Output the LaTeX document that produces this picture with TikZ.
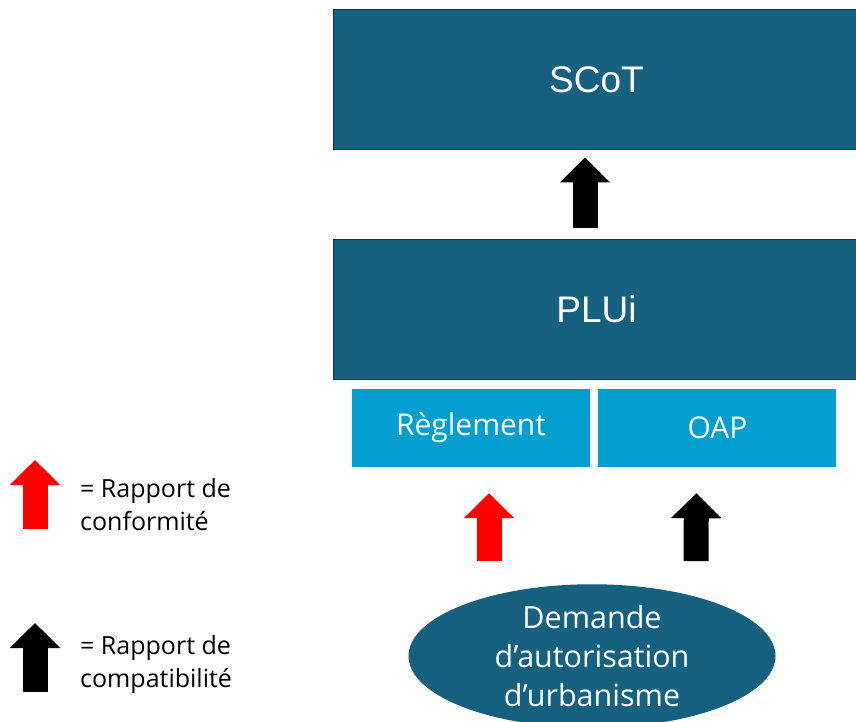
\documentclass[tikz,border=0pt]{standalone}
\usepackage{fontspec}
\setmainfont{Open Sans}
\newfontfamily\boxfont{Liberation Sans}
\usetikzlibrary{shapes.geometric,arrows.meta,positioning}
\definecolor{plublue}{RGB}{22,96,128}
\definecolor{plulight}{RGB}{4,158,209}
\definecolor{pluedge}{RGB}{14,52,70}

\begin{document}
\begin{tikzpicture}[x=1pt,y=-1pt]
		\tikzstyle{doc}=[rectangle,fill=plublue,draw=pluedge,line width=1pt,text=white,minimum height=140pt,minimum width=527pt,font=\boxfont\fontsize{37}{44}\selectfont]
		\tikzstyle{piece}=[rectangle,fill=plulight,text=white,minimum height=78pt,minimum width=238pt,font=\fontsize{30}{36}\selectfont]
		\tikzstyle{request}=[ellipse,fill=plublue,text=white,inner sep=0pt,minimum width=367pt,minimum height=140pt,align=center,font=\fontsize{30.5}{39}\selectfont]
		\tikzstyle{link}=[line width=25pt,-{Triangle[length=25pt,width=49pt]}]
		\tikzstyle{annot}=[anchor=west,align=left,inner sep=0pt,font=\fontsize{25}{33}\selectfont]

		\useasboundingbox (0,0) rectangle (856,722);

			% Draw the planning documents
		\node[doc] (scot) at (596.5,80) {SCoT};
		\node[doc] (plui) at (596.5,309) {PLUi};
		\node[piece] (regl) at (471,428) {Règlement};
		\node[piece,right=8pt of regl] (oap) {OAP};
		\node[request] (dem) at (592,656) {Demande\\d’autorisation\\d’urbanisme};

			% Connect the documents
		\draw[link] ([xshift=-11.5pt,yshift=11pt]plui.north) -- ([xshift=-11.5pt,yshift=-7pt]scot.south);
		\draw[link,red] ([xshift=-103pt,yshift=23pt]dem.north) -- ([xshift=18pt,yshift=-26pt]regl.south);
		\draw[link] ([xshift=104pt,yshift=23pt]dem.north) -- ([xshift=-21pt,yshift=-26pt]oap.south);

			% Draw the legend
		\foreach \col/\base/\tip/\ty/\txt in {red/529/460/505/{= Rapport de\\conformité},black/692/623/664/{= Rapport de\\compatibilité}}
		{
		\coordinate (base-\col) at (35,\base);
		\coordinate (tip-\col) at (35,\tip);
		\draw[link,\col] (base-\col) -- (tip-\col);
		\node[annot] (leg-\col) at (80,\ty) {\txt};
		}
\end{tikzpicture}
\end{document}
